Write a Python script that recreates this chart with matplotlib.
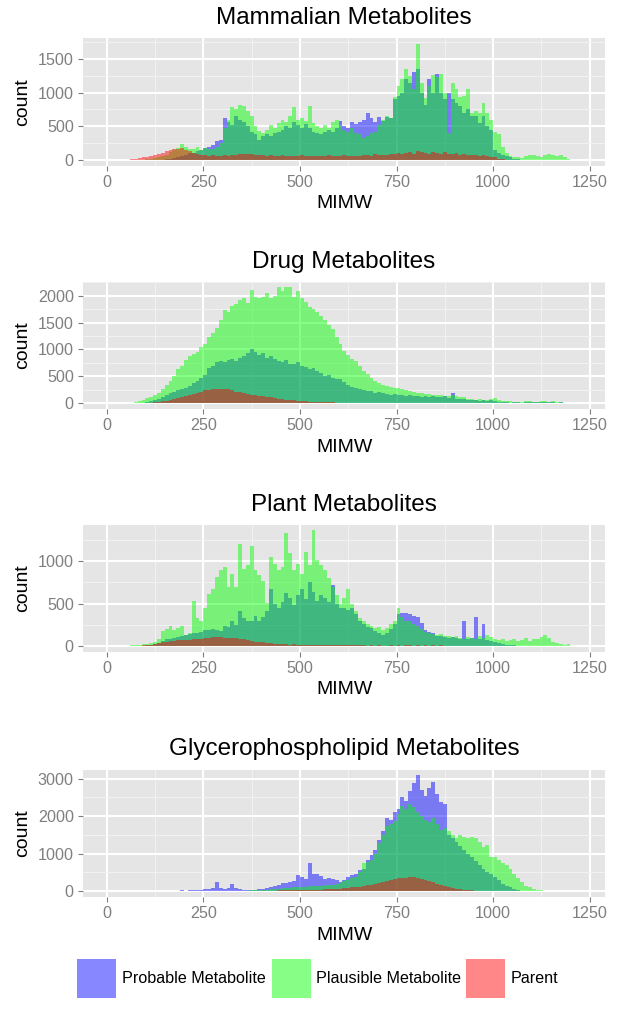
import numpy as np
import matplotlib
matplotlib.use("Agg")
import matplotlib.pyplot as plt
from matplotlib.patches import Rectangle
from matplotlib.ticker import MultipleLocator

plt.rcParams['font.family'] = ['Liberation Sans', 'DejaVu Sans']

# histogram bins: 10 Da wide, first bin starts at 50
BIN_START = 50
BIN_WIDTH = 10

SERIES = ["Probable Metabolite", "Plausible Metabolite", "Parent"]

MAMMALIAN_PROBABLE = [
    0, 0, 0, 0, 0, 0, 0, 0, 0, 0,
    10, 20, 30, 40, 60, 80, 100, 110, 130, 150,
    180, 200, 220, 280, 300, 630, 560, 520, 650, 600,
    560, 500, 420, 380, 300, 350, 380, 360, 400, 420,
    450, 500, 480, 560, 520, 480, 540, 470, 420, 400,
    380, 410, 450, 420, 480, 580, 500, 470, 560, 540,
    560, 600, 700, 620, 560, 640, 580, 640, 620, 900,
    950, 1000, 1200, 1150, 1300, 1350, 1000, 820, 1200, 1000,
    1270, 1000, 900, 1000, 900, 850, 800, 700, 750, 650,
    650, 550, 650, 500, 450, 150, 100, 80, 60, 40,
    20, 10,
]
MAMMALIAN_PLAUSIBLE = [
    0, 0, 0, 0, 0, 10, 20, 30, 50, 60,
    80, 120, 150, 180, 235, 190, 160, 170, 200, 150,
    180, 170, 160, 200, 250, 480, 600, 780, 750, 820,
    800, 720, 650, 500, 430, 400, 450, 520, 480, 550,
    600, 560, 650, 790, 600, 620, 580, 800, 550, 500,
    470, 520, 480, 560, 600, 500, 450, 420, 480, 400,
    380, 330, 350, 400, 420, 520, 600, 650, 620, 930,
    1100, 1200, 1350, 1250, 1050, 1720, 1150, 920, 1100, 1260,
    1230, 1270, 1000, 400, 1150, 1050, 940, 950, 1050, 700,
    720, 700, 850, 700, 600, 420, 380, 200, 100, 60,
    50, 40, 30, 60, 80, 70, 60, 40, 80, 90,
    70, 60, 80, 50, 20,
]
MAMMALIAN_PARENT = [
    5, 10, 20, 30, 40, 50, 60, 80, 95, 110,
    130, 150, 160, 170, 175, 150, 130, 110, 95, 80,
    70, 65, 70, 60, 65, 70, 60, 75, 80, 85,
    95, 90, 85, 80, 70, 75, 65, 70, 60, 65,
    70, 60, 55, 65, 60, 70, 55, 60, 65, 60,
    55, 60, 70, 55, 60, 65, 70, 60, 55, 65,
    60, 70, 80, 65, 90, 70, 75, 80, 85, 90,
    100, 90, 110, 120, 95, 135, 115, 100, 90, 125,
    100, 95, 120, 90, 85, 100, 80, 90, 75, 70,
    80, 60, 70, 60, 50, 40, 20, 10, 5,
]

DRUG_PROBABLE = [
    0, 0, 0, 5, 10, 20, 40, 60, 90, 120,
    160, 190, 220, 250, 270, 290, 330, 380, 420, 475,
    520, 665, 700, 760, 790, 760, 800, 820, 780, 840,
    880, 930, 1000, 950, 900, 940, 850, 880, 830, 790,
    760, 800, 740, 730, 760, 700, 680, 630, 660, 600,
    560, 510, 530, 480, 460, 445, 400, 350, 300, 290,
    270, 250, 225, 230, 200, 210, 190, 170, 160, 170,
    160, 150, 140, 150, 130, 140, 120, 130, 110, 130,
    120, 110, 130, 100, 190, 90, 80, 85, 70, 60,
    60, 50, 70, 40, 70, 40, 30, 25, 20, 15,
    30, 20, 15, 25, 20, 30, 35, 25, 20, 30,
    20, 15, 20, 10, 5, 5,
]
DRUG_PLAUSIBLE = [
    5, 10, 20, 40, 60, 100, 120, 160, 200, 260,
    350, 420, 500, 630, 700, 800, 880, 915, 960, 1040,
    1100, 1230, 1300, 1400, 1540, 1740, 1700, 1800, 1850, 1920,
    1950, 1860, 2100, 1980, 1950, 1980, 2050, 1950, 2000, 2150,
    2080, 2150, 2150, 1980, 2080, 1950, 1880, 1790, 1750, 1700,
    1620, 1540, 1450, 1380, 1230, 1100, 980, 900, 830, 790,
    700, 600, 540, 480, 410, 380, 350, 320, 300, 290,
    280, 260, 250, 230, 210, 200, 195, 180, 170, 160,
    150, 160, 140, 130, 150, 130, 120, 110, 90, 80,
    70, 80, 60, 70, 90, 100, 70, 50, 40, 40,
    30, 35, 25, 40, 40, 30, 35, 40, 45, 30,
    40, 30, 20, 10, 5,
]
DRUG_PARENT = [
    0, 0, 0, 0, 5, 10, 15, 20, 30, 40,
    50, 65, 80, 100, 120, 140, 160, 180, 200, 220,
    240, 255, 260, 270, 275, 270, 260, 240, 220, 205,
    195, 180, 165, 150, 140, 130, 120, 113, 100, 90,
    80, 70, 60, 55, 50, 45, 40, 35, 30, 28,
    25, 22, 20, 18, 15, 13, 12, 10, 10, 8,
    8, 7, 6, 5, 5, 4, 3, 3, 2, 2,
]

PLANT_PROBABLE = [
    0, 0, 0, 0, 5, 10, 15, 25, 40, 60,
    80, 90, 100, 110, 120, 130, 140, 155, 150, 170,
    195, 190, 200, 195, 180, 235, 220, 300, 250, 410,
    330, 300, 295, 350, 300, 340, 410, 670, 500, 450,
    520, 630, 560, 480, 600, 670, 550, 750, 640, 530,
    600, 560, 520, 720, 500, 450, 450, 420, 450, 380,
    300, 255, 230, 210, 180, 160, 135, 150, 200, 260,
    380, 395, 395, 380, 350, 345, 270, 190, 170, 150,
    120, 115, 110, 100, 105, 95, 90, 295, 90, 100,
    340, 80, 255, 70, 60, 50, 40, 30, 20, 15,
    10, 5,
]
PLANT_PLAUSIBLE = [
    5, 10, 15, 20, 25, 25, 40, 55, 80, 175,
    200, 235, 195, 210, 235, 135, 160, 530, 335, 295,
    450, 610, 670, 810, 890, 930, 690, 850, 700, 1200,
    910, 950, 1175, 900, 830, 770, 510, 1050, 970, 900,
    930, 1330, 1090, 900, 970, 850, 1110, 950, 1360, 1010,
    950, 890, 800, 690, 600, 490, 560, 670, 500, 410,
    335, 300, 255, 240, 215, 220, 195, 210, 255, 300,
    450, 340, 300, 290, 260, 240, 200, 170, 150, 140,
    135, 140, 115, 120, 110, 115, 100, 90, 110, 100,
    90, 120, 100, 135, 110, 90, 75, 80, 60, 75,
    80, 60, 70, 95, 60, 80, 90, 110, 135, 100,
    55, 40, 30, 10, 25,
]
PLANT_PARENT = [
    0, 0, 0, 5, 10, 15, 20, 30, 35, 45,
    55, 65, 60, 70, 75, 70, 75, 80, 85, 90,
    95, 100, 105, 110, 105, 100, 95, 100, 95, 90,
    80, 70, 60, 55, 50, 45, 40, 35, 30, 28,
    25, 25, 20, 22, 20, 18, 20, 15, 18, 15,
    15, 12, 15, 12, 10, 12, 10, 10, 12, 10,
    10, 10, 8, 10, 8, 10, 8, 8, 10, 8,
    10, 8, 10, 12, 8, 10, 8, 10, 8, 10,
    8, 10, 8, 6, 8, 6, 5, 6, 5, 4,
    4, 3, 2, 2, 1,
]

GLYCERO_PROBABLE = [
    0, 0, 5, 5, 5, 10, 5, 10, 10, 10,
    10, 15, 10, 15, 20, 15, 20, 25, 30, 40,
    55, 70, 90, 245, 80, 70, 90, 180, 90, 55,
    40, 30, 20, 30, 55, 60, 80, 110, 130, 160,
    215, 230, 250, 270, 425, 380, 335, 760, 470, 470,
    400, 335, 360, 335, 300, 245, 300, 380, 420, 470,
    560, 600, 830, 965, 1100, 1370, 1600, 1960, 1900, 2100,
    2200, 2500, 2400, 2680, 2880, 3090, 2700, 2550, 2750, 2910,
    2600, 2370, 2320, 1510, 1420, 1300, 1200, 1100, 1000, 920,
    800, 700, 600, 520, 470, 380, 300, 200, 130, 100,
    60, 30, 15, 5, 0, 0, 0, 0, 5, 10,
    10, 5, 5, 10, 5,
]
GLYCERO_PLAUSIBLE = [
    0, 0, 0, 0, 0, 0, 0, 0, 0, 0,
    0, 0, 0, 0, 0, 0, 0, 0, 0, 0,
    0, 0, 0, 0, 0, 0, 0, 0, 0, 5,
    10, 15, 20, 35, 30, 40, 45, 50, 65, 70,
    80, 85, 90, 100, 110, 115, 120, 130, 140, 150,
    150, 155, 155, 170, 200, 230, 260, 300, 340, 380,
    500, 740, 790, 830, 1000, 1280, 1500, 1730, 1800, 1870,
    2050, 2280, 2200, 2320, 2250, 2100, 2000, 1910, 1850, 1960,
    1800, 1640, 1680, 1600, 1500, 1420, 1510, 1450, 1420, 1440,
    1420, 1300, 1190, 1240, 920, 920, 830, 750, 695, 600,
    470, 350, 245, 150, 110, 60, 35, 20, 10,
]
GLYCERO_PARENT = [
    0, 0, 0, 0, 0, 0, 0, 0, 0, 0,
    0, 0, 0, 0, 0, 0, 0, 0, 0, 0,
    0, 0, 0, 0, 0, 0, 0, 0, 0, 0,
    5, 5, 8, 10, 10, 12, 15, 15, 18, 20,
    20, 22, 25, 25, 30, 30, 35, 35, 38, 40,
    45, 50, 55, 60, 65, 70, 80, 90, 100, 110,
    120, 135, 155, 170, 190, 215, 245, 270, 300, 335,
    340, 360, 350, 370, 380, 360, 335, 310, 280, 250,
    200, 170, 140, 110, 85, 65, 50, 40, 30, 20,
    15, 10, 8, 5, 3, 2,
]

TITLES = ["Mammalian Metabolites", "Drug Metabolites",
          "Plant Metabolites", "Glycerophospholipid Metabolites"]
PANELS = [
    (MAMMALIAN_PROBABLE, MAMMALIAN_PLAUSIBLE, MAMMALIAN_PARENT),
    (DRUG_PROBABLE, DRUG_PLAUSIBLE, DRUG_PARENT),
    (PLANT_PROBABLE, PLANT_PLAUSIBLE, PLANT_PARENT),
    (GLYCERO_PROBABLE, GLYCERO_PLAUSIBLE, GLYCERO_PARENT),
]
Y_STEPS = [500, 500, 500, 1000]

COLORS = ["#0000FF", "#00FF00", "#FF0000"]
ALPHA = 0.47
PANEL_BG = "#E5E5E5"
TICK_GREY = "#7F7F7F"

W, H = 620, 1011
fig = plt.figure(figsize=(W / 100, H / 100), dpi=100)

# panel geometry in pixels (top-left origin)
left, width, height = 83, 522, 127.5
tops = [38.3, 281.7, 524.5, 769.5]

for i, (series, title) in enumerate(zip(PANELS, TITLES)):
    ax = fig.add_axes([left / W, 1 - (tops[i] + height) / H, width / W, height / H])
    ax.set_facecolor(PANEL_BG)
    ymax = 0
    for values, color in zip(series, COLORS):
        values = np.asarray(values, dtype=float)
        edges = BIN_START + BIN_WIDTH * np.arange(len(values) + 1)
        ax.stairs(values, edges, fill=True, color=color, alpha=ALPHA,
                  linewidth=0, zorder=3)
        ymax = max(ymax, values.max())

    ax.set_xlim(-61.5, 1289.5)
    ax.set_ylim(-0.05 * ymax, 1.05 * ymax)

    ax.xaxis.set_major_locator(MultipleLocator(250))
    ax.xaxis.set_minor_locator(MultipleLocator(125))
    ax.yaxis.set_major_locator(MultipleLocator(Y_STEPS[i]))
    ax.yaxis.set_minor_locator(MultipleLocator(Y_STEPS[i] / 2))
    ax.grid(which="major", color="white", linewidth=1.5, zorder=1)
    ax.grid(which="minor", color="#F2F2F2", linewidth=0.7, zorder=0.5)
    ax.set_axisbelow(True)

    for s in ax.spines.values():
        s.set_visible(False)
    ax.tick_params(which="major", length=3.6, width=0.8, color=TICK_GREY,
                   labelcolor=TICK_GREY, labelsize=11.6, pad=3)
    ax.tick_params(which="minor", length=0)

    ax.text(-60 / width, 0.5, "count", rotation=90, ha="center", va="center",
            fontsize=14, transform=ax.transAxes)
    ax.text(0.5, -38 / height, "MIMW", ha="center", va="center",
            fontsize=14, transform=ax.transAxes)
    ax.text(0.5, 1 + 20 / height, title, ha="center", va="center",
            fontsize=17.5, transform=ax.transAxes)

# legend along the bottom
key_x = [77, 271.5, 466]
key_size = 39
key_top = 959
for x0, color, label in zip(key_x, COLORS, SERIES):
    fig.add_artist(Rectangle((x0 / W, 1 - (key_top + key_size) / H),
                             key_size / W, key_size / H,
                             transform=fig.transFigure, facecolor=color,
                             alpha=ALPHA, linewidth=0))
    fig.text((x0 + key_size + 6) / W, 1 - (key_top + key_size / 2) / H, label,
             ha="left", va="center", fontsize=11.6)

fig.savefig("out.png", dpi=100, facecolor="white")
